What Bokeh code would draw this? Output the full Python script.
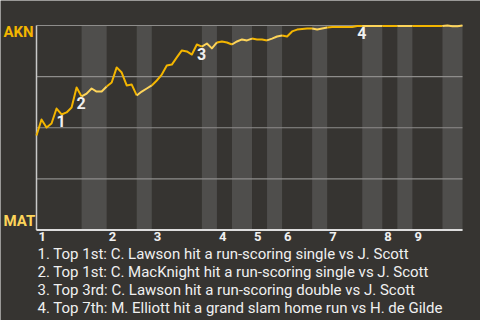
from bokeh.plotting import figure
from bokeh.models import Range1d, Label
from bokeh.core.properties import value
from bokeh.embed import file_html
from bokeh.resources import INLINE

# ---------------- data ----------------
teams = ["AKN", "MAT"]  # top (away), bottom (home)
innings = ["1", "2", "3", "4", "5", "6", "7", "8", "9"]
# plate appearances per half-inning (top 1st, bottom 1st, top 2nd, ...)
pa_per_half = [9, 5, 6, 3, 10, 3, 3, 4, 3, 3, 6, 3, 7, 4, 3, 3, 6, 4]
# AKN win probability after each plate appearance (index 0 = first pitch)
win_prob = [
    0.462, 0.540, 0.501, 0.521, 0.594, 0.565, 0.575, 0.599, 0.697, 0.653,
    0.667, 0.692, 0.677, 0.677, 0.702, 0.721, 0.795, 0.770, 0.707, 0.711,
    0.658, 0.677, 0.692, 0.707, 0.731, 0.760, 0.804, 0.809, 0.844, 0.878,
    0.873, 0.858, 0.907, 0.897, 0.912, 0.888, 0.917, 0.922, 0.917, 0.907,
    0.922, 0.932, 0.927, 0.936, 0.932, 0.932, 0.927, 0.936, 0.946, 0.951,
    0.946, 0.971, 0.980, 0.983, 0.985, 0.985, 0.980, 0.985, 0.990, 0.993,
    0.993, 0.993, 0.993, 0.993, 0.998, 0.998, 0.998, 0.998, 0.998, 0.998,
    0.998, 0.998, 0.998, 0.998, 0.998, 0.998, 0.998, 0.998, 0.998, 0.998,
    0.998, 0.997, 1.000, 0.996, 0.996, 1.000,
]
event_pa = [4, 8, 32, 64]
event_text = [
    "1. Top 1st: C. Lawson hit a run-scoring single vs J. Scott",
    "2. Top 1st: C. MacKnight hit a run-scoring single vs J. Scott",
    "3. Top 3rd: C. Lawson hit a run-scoring double vs J. Scott",
    "4. Top 7th: M. Elliott hit a grand slam home run vs H. de Gilde",
]
grid_values = [0.0, 0.25, 0.5, 0.75, 1.0]

# ---------------- style ----------------
BG = "#363431"
STRIPE = "#4f4e4c"
GOLD = "#f3b500"
LIGHT = "#fdd45a"
TXT = "#f0f0f0"
FONT = value("Roboto")

# layout: frame covers whole canvas; map plot area px 36..462 / 25..229.5
W, H = 480, 320
L, R, T, B = 36, 462, 25, 229.5
n = len(win_prob) - 1
sx = (R - L) / n
sy = (B - T)
p = figure(width=W, height=H, output_backend="svg", toolbar_location=None,
           x_axis_location=None, y_axis_location=None, min_border=0,
           x_range=Range1d(-L / sx, n + (W - R) / sx),
           y_range=Range1d(-(H - B) / sy, 1 + T / sy))
p.min_border_left = p.min_border_right = p.min_border_top = p.min_border_bottom = 0
p.grid.visible = False
p.outline_line_color = None
p.background_fill_color = BG
p.border_fill_color = BG

# half-inning boundaries
bounds = [0]
for c in pa_per_half:
    bounds.append(bounds[-1] + c)

# stripes for bottom halves
sl = [bounds[h] for h in range(1, len(pa_per_half), 2)]
sr = [bounds[h + 1] for h in range(1, len(pa_per_half), 2)]
p.quad(left=sl, right=sr, bottom=0, top=1, fill_color=STRIPE, line_color=None)

# grid lines
p.segment(x0=[0] * len(grid_values), x1=[n] * len(grid_values), y0=grid_values,
          y1=grid_values, line_color="#8e8d8b", line_width=1.2)
# axes lines
p.segment(x0=[0], x1=[0], y0=[0], y1=[1], line_color="#c9c9c9", line_width=1.5)
p.segment(x0=[0], x1=[n], y0=[0], y1=[0], line_color="#dddddd", line_width=2)

# win probability line, coloured by batting team
xs, ys, cols = [], [], []
for h in range(len(pa_per_half)):
    a, b = bounds[h], bounds[h + 1]
    xs.append(list(range(a, b + 1)))
    ys.append(win_prob[a:b + 1])
    cols.append(GOLD if h % 2 == 0 else LIGHT)
p.multi_line(xs=xs, ys=ys, line_color=cols, line_width=2, line_join="round")

# event markers
p.text(x=event_pa, y=[win_prob[i + 1] for i in event_pa],
       text=[str(k + 1) for k in range(len(event_pa))],
       y_offset=7, text_font=FONT, text_font_style="bold",
       text_font_size="16px", text_color=TXT, text_align="left",
       text_baseline="alphabetic")

# inning labels
inn_x = [bounds[2 * k] for k in range(len(innings))]
p.text(x=inn_x, y=[0] * len(innings), text=innings, x_offset=2, y_offset=6,
       text_font=FONT, text_font_style="bold", text_font_size="13px",
       text_color=TXT, text_align="left", text_baseline="alphabetic")

# team labels
p.add_layout(Label(x=3, y=H - 31, x_units="screen", y_units="screen", text=teams[0],
                   text_font="Roboto", text_font_style="bold", text_font_size="15px",
                   text_color=GOLD, text_baseline="alphabetic"))
p.add_layout(Label(x=3, y=H - 220, x_units="screen", y_units="screen", text=teams[1],
                   text_font="Roboto", text_font_style="bold", text_font_size="15px",
                   text_color=LIGHT, text_baseline="alphabetic"))

# event descriptions
for k, t in enumerate(event_text):
    p.add_layout(Label(x=37, y=H - (253 + 18 * k), x_units="screen", y_units="screen",
                       text=t, text_font="Roboto", text_font_size="15px",
                       text_color=TXT, text_baseline="alphabetic"))

open("out.html", "w").write(file_html(p, INLINE))
